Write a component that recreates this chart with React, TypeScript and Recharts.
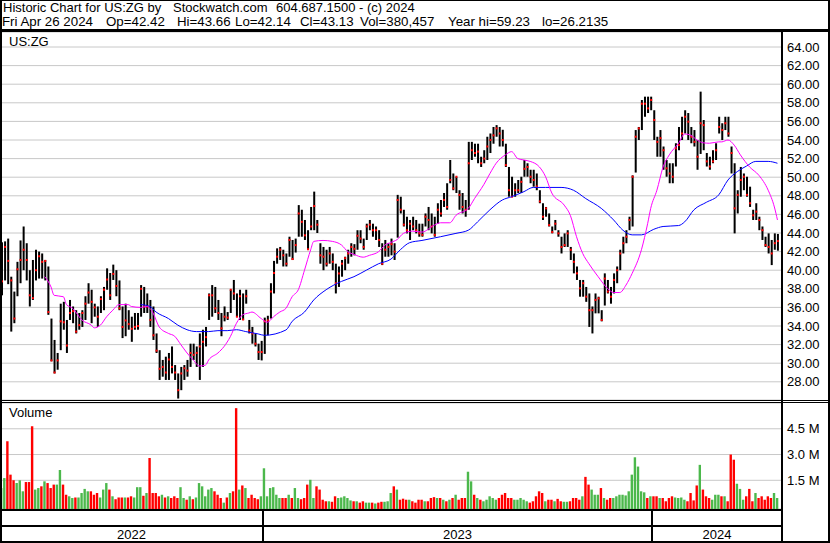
import React from 'react';
import { ComposedChart, Bar, Line, XAxis, YAxis, CartesianGrid, Cell } from 'recharts';

const FONT = '"Liberation Sans", Arial, Helvetica, sans-serif';

// ---- price bars (each bar = 2 trading days) ----
const HIGH = [
  43.0, 43.1, 43.4, 39.3, 37.7, 40.9, 43.2, 44.7, 42.9, 40.0,
  41.1, 42.2, 42.0, 41.8, 41.1, 40.4, 34.8, 32.5, 31.1, 36.4,
  36.6, 34.65, 36.8, 36.1, 35.7, 35.4, 35.7, 37.2, 38.6, 37.9,
  36.4, 36.1, 37.2, 38.2, 40.2, 39.7, 40.6, 40.0, 38.9, 36.1,
  36.4, 35.7, 35.0, 35.4, 35.4, 38.4, 38.2, 37.5, 36.8, 36.1,
  33.2, 31.4, 30.35, 30.7, 31.1, 31.8, 29.8, 28.9, 29.6, 29.8,
  30.35, 32.1, 32.1, 31.8, 33.2, 33.6, 33.9, 37.5, 38.4, 38.2,
  36.8, 35.4, 36.1, 35.5, 37.9, 38.95, 37.5, 37.9, 37.5, 37.9,
  34.65, 33.9, 33.2, 32.1, 32.4, 34.9, 35.1, 38.6, 41.0, 42.35,
  42.5, 42.2, 41.8, 43.6, 43.25, 43.4, 47.0, 46.5, 45.4, 44.3,
  46.8, 48.45, 45.4, 42.9, 42.5, 42.2, 42.5, 41.8, 40.7, 40.4,
  41.1, 41.45, 42.2, 42.9, 42.8, 44.3, 44.3, 43.4, 45.0, 45.4,
  45.0, 44.7, 44.3, 42.9, 43.25, 42.9, 43.4, 42.9, 48.1, 47.9,
  46.5, 45.75, 45.4, 45.75, 45.4, 45.0, 45.0, 46.1, 46.8, 46.1,
  45.75, 47.2, 47.55, 48.3, 49.35, 51.85, 50.4, 50.05, 48.6, 48.3,
  47.55, 53.8, 53.8, 53.6, 53.6, 52.2, 52.9, 54.35, 54.7, 55.4,
  55.6, 55.4, 55.1, 53.6, 51.1, 50.05, 49.35, 49.7, 50.05, 51.85,
  51.5, 50.8, 50.8, 50.4, 48.6, 47.2, 46.8, 46.1, 44.7, 45.4,
  44.3, 43.6, 43.96, 44.3, 42.5, 41.8, 40.4, 38.95, 38.95, 38.2,
  37.5, 36.1, 37.5, 37.15, 35.7, 39.66, 38.95, 38.2, 39.66, 40.4,
  42.2, 43.6, 44.3, 45.75, 50.2, 55.07, 55.4, 58.3, 58.66, 58.66,
  58.66, 57.2, 54.35, 55.07, 53.3, 51.85, 51.5, 51.5, 53.65, 55.4,
  56.5, 57.2, 56.9, 55.4, 55.07, 54.0, 59.2, 56.15, 52.6, 52.2,
  52.9, 53.65, 56.5, 55.8, 56.5, 56.5, 53.3, 51.5, 48.6, 51.1,
  50.4, 50.05, 48.98, 46.5, 47.2, 45.75, 44.7, 43.6, 43.96, 43.25,
  43.96, 43.9,
];

const LOW = [
  37.3, 38.9, 38.5, 33.4, 34.3, 37.2, 38.6, 40.0, 38.9, 36.1,
  36.8, 38.9, 39.1, 39.1, 38.9, 35.2, 30.2, 28.9, 29.3, 31.4,
  33.6, 31.1, 34.65, 34.3, 33.2, 33.6, 33.9, 34.65, 36.4, 34.3,
  35.0, 33.9, 35.4, 35.7, 37.9, 36.8, 38.95, 37.2, 35.7, 32.7,
  32.9, 33.6, 32.3, 33.6, 33.6, 35.0, 35.4, 35.4, 33.9, 32.5,
  31.1, 28.2, 28.55, 28.2, 28.2, 28.9, 28.2, 26.2, 27.1, 28.2,
  28.55, 29.6, 30.35, 29.6, 28.2, 29.6, 31.8, 34.65, 35.0, 35.4,
  34.65, 32.9, 34.5, 34.65, 35.4, 36.8, 35.0, 34.65, 34.65, 36.4,
  33.2, 32.1, 31.8, 30.35, 30.3, 31.0, 33.0, 34.8, 37.5, 40.7,
  41.1, 40.4, 40.4, 41.45, 41.1, 41.9, 43.6, 43.6, 43.25, 42.2,
  44.3, 44.3, 44.0, 40.7, 40.0, 40.4, 40.7, 40.0, 37.5, 38.2,
  39.3, 40.0, 40.7, 41.45, 41.6, 42.2, 42.9, 42.2, 43.25, 44.3,
  43.6, 43.25, 42.5, 40.55, 41.45, 41.45, 41.6, 41.1, 43.5, 46.1,
  44.7, 43.96, 43.25, 44.3, 43.96, 43.6, 43.6, 44.7, 44.3, 43.96,
  43.6, 45.0, 45.75, 46.8, 46.5, 49.35, 48.6, 48.3, 46.5, 46.1,
  45.75, 46.5, 51.85, 52.2, 51.5, 51.1, 51.5, 51.85, 52.6, 53.6,
  54.35, 53.3, 53.3, 51.1, 47.9, 47.9, 47.9, 48.3, 48.3, 50.05,
  50.05, 49.35, 48.98, 48.6, 47.2, 45.4, 45.75, 44.7, 43.96, 44.3,
  43.6, 41.8, 42.5, 42.5, 41.1, 39.66, 38.95, 37.15, 37.15, 36.6,
  33.9, 33.2, 35.36, 35.36, 34.5, 36.2, 37.5, 36.4, 37.5, 38.6,
  40.0, 41.8, 42.9, 44.3, 44.7, 50.5, 54.0, 55.07, 56.5, 56.9,
  57.2, 54.0, 52.2, 52.2, 50.8, 50.05, 49.35, 49.35, 51.15, 52.9,
  54.0, 54.7, 54.0, 53.65, 53.3, 50.8, 52.5, 52.9, 51.15, 50.8,
  51.5, 51.85, 54.7, 54.0, 55.07, 54.35, 50.4, 43.96, 46.1, 47.9,
  48.6, 47.9, 46.8, 45.4, 45.4, 44.3, 43.25, 42.5, 41.8, 40.55,
  42.2, 42.1,
];

const CLOSE = [
  38.8, 42.5, 41.0, 38.9, 34.8, 40.1, 41.1, 42.2, 41.1, 37.3,
  37.0, 40.0, 41.5, 40.9, 41.0, 35.5, 30.3, 29.0, 30.3, 34.5,
  34.4, 31.9, 35.4, 35.6, 33.4, 34.1, 35.4, 36.4, 37.6, 36.6,
  36.0, 35.0, 36.9, 37.9, 39.0, 37.3, 39.6, 38.3, 35.9, 33.9,
  34.6, 34.2, 33.7, 33.9, 34.0, 38.0, 36.1, 36.1, 34.65, 33.0,
  31.35, 29.4, 29.6, 29.0, 30.4, 29.6, 29.0, 27.1, 28.9, 29.45,
  29.2, 31.1, 30.9, 31.1, 31.8, 32.3, 32.8, 37.3, 37.3, 35.9,
  35.4, 33.75, 35.0, 34.9, 37.9, 37.5, 35.0, 37.2, 34.7, 37.2,
  33.5, 33.2, 32.1, 31.2, 31.2, 34.5, 34.6, 37.7, 39.7, 41.45,
  42.2, 41.6, 40.7, 43.25, 41.2, 42.7, 46.1, 45.2, 43.75, 42.25,
  44.7, 46.9, 44.9, 41.6, 41.45, 40.7, 41.8, 40.9, 38.6, 39.65,
  40.7, 41.3, 41.8, 42.5, 42.3, 43.7, 43.4, 42.5, 44.7, 44.9,
  44.3, 44.3, 43.25, 40.7, 42.2, 42.5, 42.8, 42.0, 47.55, 46.5,
  44.9, 44.3, 45.0, 44.7, 44.3, 43.96, 43.8, 45.75, 45.4, 44.7,
  43.8, 46.5, 46.1, 47.55, 46.8, 49.7, 48.8, 50.05, 48.1, 46.8,
  46.5, 51.5, 52.9, 52.6, 52.75, 51.5, 52.0, 53.3, 54.0, 54.5,
  55.25, 54.7, 54.0, 51.3, 48.6, 47.9, 48.6, 48.6, 49.5, 50.9,
  51.1, 50.05, 49.7, 49.0, 47.4, 45.75, 46.65, 44.85, 44.1, 45.0,
  43.96, 42.5, 42.7, 43.96, 42.2, 40.9, 39.66, 38.05, 38.6, 37.15,
  35.7, 35.7, 36.8, 36.97, 34.65, 39.1, 37.7, 37.15, 38.95, 40.0,
  41.8, 42.9, 43.6, 45.4, 50.05, 54.35, 55.25, 57.9, 57.9, 57.4,
  58.3, 56.15, 53.8, 54.2, 52.9, 50.95, 50.4, 50.05, 53.1, 53.45,
  54.7, 56.5, 55.97, 54.35, 53.8, 52.2, 55.8, 55.6, 51.7, 51.15,
  51.7, 52.9, 55.4, 55.07, 55.8, 54.7, 52.6, 46.65, 48.1, 49.7,
  50.05, 48.1, 47.2, 45.9, 46.3, 45.4, 44.3, 42.7, 42.5, 41.8,
  42.9, 43.13,
];

// volume in millions
const VOLUME = [
  1.05, 1.63, 3.77, 1.83, 1.5, 1.34, 1.5, 0.86, 1.4, 1.4,
  4.64, 0.96, 1.05, 1.15, 1.44, 1.34, 1.05, 1.25, 1.25, 2.1,
  1.25, 0.66, 0.57, 0.47, 0.5, 0.5, 0.76, 1.0, 0.86, 0.86,
  0.66, 0.76, 0.5, 0.96, 1.34, 0.96, 0.57, 0.4, 0.5, 0.5,
  0.5, 0.5, 0.57, 0.5, 1.1, 1.1, 0.6, 0.76, 2.8, 0.76,
  0.76, 0.57, 0.66, 0.5, 0.57, 0.47, 0.57, 0.47, 1.1, 0.47,
  0.37, 0.57, 0.4, 0.5, 1.34, 1.15, 0.57, 0.96, 1.05, 0.86,
  0.66, 0.47, 0.2, 0.5, 0.76, 0.86, 5.7, 0.96, 1.2, 1.05,
  0.47, 0.66, 0.47, 0.4, 0.57, 2.2, 0.57, 1.05, 1.1, 0.66,
  0.47, 0.47, 0.47, 0.66, 0.47, 1.05, 0.47, 0.4, 0.47, 1.25,
  1.53, 0.47, 1.15, 0.96, 0.37, 0.28, 0.28, 0.25, 0.57, 0.47,
  0.5, 0.57, 0.47, 0.33, 0.28, 0.28, 0.2, 0.28, 0.2, 0.2,
  0.2, 0.15, 0.2, 0.25, 0.25, 0.28, 0.76, 1.15, 0.96, 0.37,
  0.43, 0.37, 0.37, 0.28, 0.2, 0.37, 0.37, 0.28, 0.28, 0.47,
  0.52, 0.47, 0.47, 0.37, 0.28, 0.37, 0.47, 0.66, 0.37, 0.47,
  0.47, 2.0, 1.44, 0.66, 0.47, 0.37, 0.28, 0.37, 0.57, 0.47,
  0.37, 0.47, 0.66, 0.76, 0.47, 0.47, 0.37, 0.37, 0.47, 0.37,
  0.28, 0.2, 0.28, 0.57, 0.86, 0.76, 0.28, 0.37, 0.37, 0.28,
  0.42, 0.28, 0.25, 0.25, 0.28, 0.47, 0.47, 0.37, 0.57, 1.7,
  1.25, 0.96, 0.66, 0.66, 1.05, 0.47, 0.37, 0.47, 0.47, 0.57,
  0.66, 0.66, 0.62, 0.86, 1.83, 2.84, 2.3, 0.86, 0.8, 0.47,
  0.57, 0.57, 0.57, 0.47, 0.47, 0.28, 0.47, 0.57, 0.5, 0.47,
  0.5, 0.37, 0.28, 0.76, 0.33, 1.2, 2.4, 0.96, 0.57, 0.47,
  0.37, 0.66, 0.66, 0.57, 0.57, 0.28, 3.0, 2.7, 1.3, 1.0,
  0.37, 0.57, 1.0, 0.28, 0.76, 0.47, 0.57, 0.37, 0.57, 0.47,
  0.76, 0.47,
];

// moving averages: [bar index, value]
const PINK_MA: [number, number][] = [
  [14, 39.3], [16, 38.2], [17, 37.3], [20, 37.15], [21, 36.3], [23, 35.9], [24, 35.5], [26, 34.65],
  [29, 34.1], [30, 33.8], [32, 34.1], [34, 35.0], [36, 35.7], [38, 36.3], [41, 36.3], [42, 36.1],
  [45, 36.0], [47, 36.1], [49, 35.4], [51, 33.9], [54, 33.2], [56, 32.9], [58, 32.0], [60, 31.1],
  [62, 30.35], [64, 29.7], [66, 29.8], [67, 30.35], [70, 31.1], [72, 31.8], [74, 32.85], [76, 34.3],
  [78, 35.2], [80, 35.4], [81, 35.5], [84, 34.8], [86, 34.4], [88, 35.0], [90, 35.5], [92, 35.9],
  [94, 37.15], [96, 37.9], [98, 40.0], [100, 42.2], [101, 43.1], [104, 43.2], [107, 43.1], [110, 42.7],
  [112, 42.0], [114, 41.7], [117, 41.4], [119, 41.6], [122, 42.0], [124, 42.7], [126, 43.0], [128, 43.3],
  [130, 43.96], [133, 44.2], [136, 44.1], [140, 44.85], [142, 45.1], [145, 45.1], [147, 45.9], [151, 46.65],
  [153, 47.7], [156, 49.2], [158, 50.4], [160, 51.5], [163, 52.4], [165, 52.75], [167, 52.0], [169, 51.85],
  [171, 51.7], [174, 51.1], [176, 50.05], [178, 48.3], [182, 47.0], [184, 45.9], [186, 43.6], [188, 41.8],
  [190, 40.7], [193, 39.3], [196, 38.05], [198, 37.6], [200, 37.6], [202, 38.4], [204, 39.66], [207, 42.2],
  [209, 45.0], [210, 46.65], [212, 48.6], [214, 51.1], [216, 52.4], [219, 53.65], [221, 54.65], [223, 54.5],
  [225, 54.0], [227, 53.7], [229, 53.65], [232, 53.8], [233, 53.8], [235, 54.0], [237, 53.45], [239, 52.4],
  [242, 51.1], [245, 50.2], [248, 48.6], [250, 46.8], [251, 45.4],
];

const BLUE_MA: [number, number][] = [
  [45, 36.3], [48, 36.1], [50, 35.5], [54, 34.8], [57, 34.1], [60, 33.6], [63, 33.4], [67, 33.4],
  [70, 33.5], [73, 33.5], [76, 33.6], [79, 33.4], [83, 33.15], [85, 33.0], [92, 33.57], [94, 34.5],
  [98, 35.5], [101, 36.8], [105, 37.9], [110, 38.8], [114, 39.3], [118, 40.0], [122, 40.7], [126, 41.2],
  [129, 42.2], [132, 42.96], [136, 43.2], [142, 43.6], [147, 43.96], [151, 44.3], [154, 45.2], [158, 46.5],
  [162, 47.55], [165, 47.9], [169, 48.45], [172, 48.9], [176, 48.9], [181, 48.9], [185, 48.6], [189, 47.7],
  [194, 46.65], [198, 45.4], [201, 44.3], [204, 43.8], [207, 43.8], [211, 44.4], [214, 44.7], [219, 44.8],
  [221, 45.2], [224, 46.5], [228, 47.3], [232, 48.1], [235, 49.7], [238, 50.6], [241, 51.2], [244, 51.7],
  [248, 51.7], [251, 51.5],
];

// bar indices where each month starts (vertical grid lines)
const MONTH_BARS = [11, 22, 32, 43, 53, 64, 74, 85, 95, 105, 116, 126, 137, 148, 158, 168, 179, 190, 200, 211, 221, 232, 242];
const PRICE_TICKS = [28, 30, 32, 34, 36, 38, 40, 42, 44, 46, 48, 50, 52, 54, 56, 58, 60, 62, 64];
const PRICE_DOMAIN: [number, number] = [26.043, 65.613];
const VOLUME_TICKS = [1.5, 3.0, 4.5];
const VOL_FLOOR = -0.17;
const VOL_DOMAIN: [number, number] = [VOL_FLOOR, 6.0];
const YEARS = [
  { label: '2022', from: 0, to: 263 },
  { label: '2023', from: 263, to: 652 },
  { label: '2024', from: 652, to: 782 },
];

const TITLE_1 = [
  { t: 'Historic Chart for US:ZG by', x: 3 },
  { t: 'Stockwatch.com', x: 173 },
  { t: '604.687.1500', x: 276 },
  { t: '- (c) 2024', x: 359 },
];
const TITLE_2 = [
  { t: 'Fri Apr 26 2024', x: 2 },
  { t: 'Op=42.42', x: 106 },
  { t: 'Hi=43.66', x: 177 },
  { t: 'Lo=42.14', x: 235 },
  { t: 'Cl=43.13', x: 300 },
  { t: 'Vol=380,457', x: 360 },
  { t: 'Year hi=59.23', x: 448 },
  { t: 'lo=26.2135', x: 542 },
];

type Row = { i: number; h: number; l: number; c: number; v: number; up: boolean; pk: number | null; bl: number | null };

const rows: Row[] = HIGH.map((h, i) => ({
  i,
  h,
  l: LOW[i],
  c: CLOSE[i],
  v: VOLUME[i],
  up: i > 0 ? CLOSE[i] >= CLOSE[i - 1] : true,
  pk: null,
  bl: null,
}));
PINK_MA.forEach(([i, v]) => { rows[i].pk = v; });
BLUE_MA.forEach(([i, v]) => { rows[i].bl = v; });

const GRID = '#c8c8c8';
const UP_COLOR = '#4cb84c';
const DOWN_COLOR = '#ff0000';

const PriceBar = (props: any) => {
  const { x, y, width, height, payload } = props;
  if (!payload || x == null || y == null) return null;
  const span = payload.h - payload.l;
  const cy = span > 0 ? y + ((payload.h - payload.c) / span) * height : y;
  return (
    <g>
      <rect x={x} y={y} width={width} height={Math.max(height, 1)} fill="#000" />
      <rect x={x} y={cy - 1} width={2} height={2} fill="#ff0000" />
    </g>
  );
};

const tickStyle = { fontSize: 13, fill: '#000', fontFamily: FONT };

const abs = (s: React.CSSProperties): React.CSSProperties => ({ position: 'absolute', ...s });

export default function App() {
  const xAxis = (
    <XAxis
      dataKey="i"
      type="category"
      ticks={MONTH_BARS}
      interval={0}
      tick={false}
      tickLine={false}
      axisLine={false}
      height={0}
      padding={{ left: 0, right: 3 }}
    />
  );
  return (
    <div style={abs({ left: 0, top: 0, width: 830, height: 543, background: '#fff', overflow: 'hidden', fontFamily: FONT, color: '#000' })}>
      {TITLE_1.map((s) => (
        <div key={s.t} style={abs({ left: s.x, top: 1, fontSize: 13, lineHeight: '13px', whiteSpace: 'pre' })}>{s.t}</div>
      ))}
      {TITLE_2.map((s) => (
        <div key={s.t} style={abs({ left: s.x, top: 15, fontSize: 13.3, lineHeight: '13px', whiteSpace: 'pre' })}>{s.t}</div>
      ))}
      <div style={abs({ left: 0, top: 29, width: 830, height: 3, background: '#000' })} />

      <div style={abs({ left: 0, top: 32 })}>
        <ComposedChart width={830} height={368} data={rows} margin={{ top: 0, right: 0, bottom: 0, left: 0 }}>
          <CartesianGrid stroke={GRID} strokeWidth={1} />
          {xAxis}
          <YAxis
            orientation="right"
            width={48}
            type="number"
            domain={PRICE_DOMAIN}
            ticks={PRICE_TICKS}
            interval={0}
            allowDataOverflow
            tickFormatter={(v: number) => v.toFixed(2)}
            tickSize={0}
            tickMargin={5}
            axisLine={false}
            tickLine={false}
            tick={tickStyle}
          />
          <Bar dataKey={(d: Row) => [d.l, d.h]} barSize={2} shape={PriceBar} isAnimationActive={false} />
          <Line dataKey="bl" type="monotone" stroke="#0000ff" strokeWidth={1} dot={false} activeDot={false} connectNulls isAnimationActive={false} />
          <Line dataKey="pk" type="monotone" stroke="#ff00ff" strokeWidth={1} dot={false} activeDot={false} connectNulls isAnimationActive={false} />
        </ComposedChart>
      </div>
      <div style={abs({ left: 9, top: 35, fontSize: 13, lineHeight: '13px' })}>US:ZG</div>

      <div style={abs({ left: 0, top: 400, width: 830, height: 1, background: '#000' })} />
      <div style={abs({ left: 0, top: 402, width: 830, height: 1, background: '#000' })} />

      <div style={abs({ left: 0, top: 403 })}>
        <ComposedChart width={830} height={106} data={rows} margin={{ top: 0, right: 0, bottom: 0, left: 0 }}>
          <CartesianGrid stroke={GRID} strokeWidth={1} />
          {xAxis}
          <YAxis
            orientation="right"
            width={48}
            type="number"
            domain={VOL_DOMAIN}
            ticks={VOLUME_TICKS}
            interval={0}
            allowDataOverflow
            tickFormatter={(v: number) => `${v.toFixed(1)} M`}
            tickSize={0}
            tickMargin={5}
            axisLine={false}
            tickLine={false}
            tick={tickStyle}
          />
          <Bar dataKey={(d: Row) => [VOL_FLOOR, d.v]} barSize={2.4} isAnimationActive={false}>
            {rows.map((r) => (
              <Cell key={r.i} fill={r.up ? UP_COLOR : DOWN_COLOR} />
            ))}
          </Bar>
        </ComposedChart>
      </div>
      <div style={abs({ left: 9, top: 406, fontSize: 13, lineHeight: '13px' })}>Volume</div>

      <div style={abs({ left: 0, top: 509, width: 783, height: 2, background: '#000' })} />
      <div style={abs({ left: 0, top: 525, width: 783, height: 2, background: '#000' })} />
      {YEARS.slice(1).map((y) => (
        <div key={y.label} style={abs({ left: y.from - 1, top: 509, width: 2, height: 34, background: '#000' })} />
      ))}
      {YEARS.map((y) => (
        <div key={y.label} style={abs({ left: y.from, top: 528, width: y.to - y.from, textAlign: 'center', fontSize: 13, lineHeight: '13px' })}>{y.label}</div>
      ))}
      <div style={abs({ left: 781, top: 32, width: 2, height: 511, background: '#000' })} />
      <div style={abs({ left: 0, top: 0, width: 830, height: 543, boxSizing: 'border-box', borderStyle: 'solid', borderColor: '#000', borderWidth: '1px 2px 2px 2px', pointerEvents: 'none' })} />
    </div>
  );
}
